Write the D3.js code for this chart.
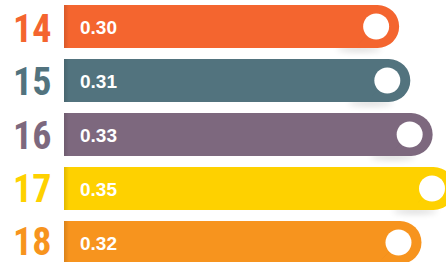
<!DOCTYPE html>
<html>
<head>
<meta charset="utf-8">
<script src="https://cdn.jsdelivr.net/npm/d3@7"></script>
<style>
  html, body { margin: 0; padding: 0; background: #fff; }
  svg { display: block; }
</style>
</head>
<body>
<svg id="chart" width="446" height="262"></svg>
<script>
// chart data
var labels = ['14', '15', '16', '17', '18'];
var values = [0.30, 0.31, 0.33, 0.35, 0.32];
var colors = ['#F4652F', '#52737E', '#7D687E', '#FED100', '#F7941E'];

var rows = labels.map(function(d, i) {
    return {label: d, value: values[i], color: colors[i]};
});

var svg = d3.select('#chart');
var padding = {t: 5, l: 64};
var step = 54, gap = 11;

// vertical bands for each row
var y = d3.scaleBand()
    .domain(labels)
    .range([padding.t, padding.t + step * labels.length - gap])
    .paddingInner(gap / step)
    .paddingOuter(0);
var barH = y.bandwidth();

// the big numbers on the left sit on a slightly tighter pitch
var yLabel = d3.scalePoint()
    .domain(labels)
    .range([42, 255]);

// bar length scale
var x = d3.scaleLinear()
    .domain([0, 0.35])
    .range([0, 391]);

var defs = svg.append('defs');

// soft blur for the shadow under the rounded end
defs.append('filter').attr('id', 'soft')
    .attr('x', '-50%').attr('y', '-100%').attr('width', '200%').attr('height', '300%')
    .append('feGaussianBlur').attr('stdDeviation', 3);

// long shadow gradient (dark near the circle, fading out)
var lg = defs.append('linearGradient').attr('id', 'longShadow')
    .attr('x1', '1').attr('y1', '0').attr('x2', '0').attr('y2', '1');
lg.append('stop').attr('offset', '0%').attr('stop-color', '#000').attr('stop-opacity', 0.45);
lg.append('stop').attr('offset', '100%').attr('stop-color', '#000').attr('stop-opacity', 0);

// darker fold on the left edge
var eg = defs.append('linearGradient').attr('id', 'edge')
    .attr('x1', '0').attr('y1', '0').attr('x2', '1').attr('y2', '0');
eg.append('stop').attr('offset', '0%').attr('stop-color', '#000').attr('stop-opacity', 0.12);
eg.append('stop').attr('offset', '100%').attr('stop-color', '#000').attr('stop-opacity', 0);

function barPath(d) {
    var x0 = padding.l, y0 = y(d.label), w = x(d.value), r = barH / 2;
    return 'M' + x0 + ',' + y0 +
        'H' + (x0 + w - r) +
        'A' + r + ',' + r + ' 0 0 1 ' + (x0 + w - r) + ',' + (y0 + barH) +
        'H' + x0 + 'Z';
}

rows.forEach(function(d, i) {
    defs.append('clipPath').attr('id', 'clip' + i)
        .append('path').attr('d', barPath(d));
});

var rowG = svg.selectAll('.row')
    .data(rows)
    .enter().append('g')
    .attr('class', 'row');

// soft shadow below the rounded end
rowG.append('ellipse')
    .attr('cx', function(d) { return padding.l + x(d.value) - 40; })
    .attr('cy', function(d) { return y(d.label) + barH + 1; })
    .attr('rx', 22)
    .attr('ry', 3)
    .attr('fill', '#000')
    .attr('opacity', 0.14)
    .attr('filter', 'url(#soft)');

rowG.append('path')
    .attr('class', 'bar')
    .attr('d', barPath)
    .attr('fill', function(d) { return d.color; });

rowG.append('rect')
    .attr('x', padding.l)
    .attr('y', function(d) { return y(d.label); })
    .attr('width', 5)
    .attr('height', barH)
    .attr('fill', 'url(#edge)');

var circR = 13;
function cx(d) { return padding.l + x(d.value) - 23; }
function cy(d) { return y(d.label) + barH / 2; }

// long shadow from the circle running down-left
rowG.append('path')
    .attr('clip-path', function(d, i) { return 'url(#clip' + i + ')'; })
    .attr('d', function(d) {
        var c = cx(d), m = cy(d), k = circR * Math.SQRT1_2, L = 40;
        return 'M' + (c + k) + ',' + (m - k) +
            'L' + (c - k) + ',' + (m + k) +
            'L' + (c - k - L) + ',' + (m + k + L) +
            'L' + (c + k - L) + ',' + (m - k + L) + 'Z';
    })
    .attr('fill', 'url(#longShadow)');

rowG.append('circle')
    .attr('cx', cx)
    .attr('cy', cy)
    .attr('r', circR)
    .attr('fill', '#fff');

// big row labels on the left
rowG.append('text')
    .attr('x', 13)
    .attr('y', function(d) { return yLabel(d.label); })
    .attr('font-family', '"Liberation Sans Narrow", "Roboto Condensed", "Liberation Sans", sans-serif')
    .attr('font-weight', 'bold')
    .attr('font-size', 38)
    .attr('fill', function(d) { return d.color; })
    .text(function(d) { return d.label; });

// value labels inside the bars
rowG.append('text')
    .attr('x', 80)
    .attr('y', function(d) { return y(d.label) + 29; })
    .attr('font-family', '"Liberation Sans", Arial, sans-serif')
    .attr('font-weight', 'bold')
    .attr('font-size', 19)
    .attr('fill', '#fff')
    .text(function(d) { return d3.format('.2f')(d.value); });
</script>
</body>
</html>
